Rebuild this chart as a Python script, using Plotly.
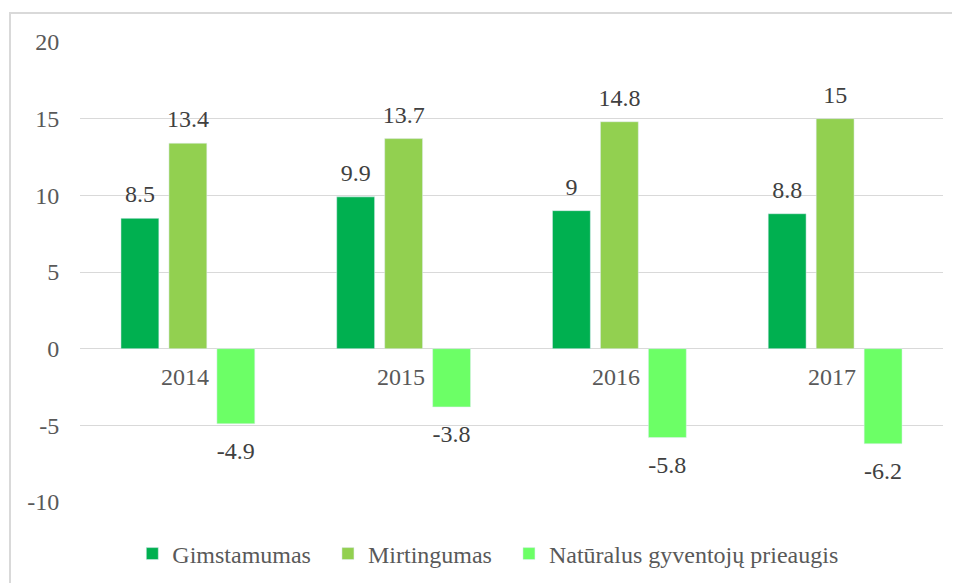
import plotly.graph_objects as go

years = [2014, 2015, 2016, 2017]
gimstamumas = [8.5, 9.9, 9, 8.8]
mirtingumas = [13.4, 13.7, 14.8, 15]
prieaugis = [-4.9, -3.8, -5.8, -6.2]
series_names = ["Gimstamumas", "Mirtingumas", "Natūralus gyventojų prieaugis"]
colors = ["#00B050", "#92D050", "#6CFF66"]
y_ticks = [-10, -5, 0, 5, 10, 15, 20]
y_ticktext = ["-10", "-5", "0", "5", "10", "15", "20"]

FONT = "Liberation Serif"
GAP = 0.333
fig = go.Figure()
series = [gimstamumas, mirtingumas, prieaugis]
for name, vals, c in zip(series_names, series, colors):
    fig.add_trace(go.Bar(
        x=years, y=vals, name=name + "\u00a0\u00a0", marker=dict(color=c),
        hoverinfo="skip",
    ))
# value labels, grouped like the bars
for name, vals in zip(series_names, series):
    fig.add_trace(go.Scatter(
        x=years, y=vals, mode="markers+text", showlegend=False, hoverinfo="skip",
        text=[str(v) for v in vals],
        textposition=["top center" if v >= 0 else "bottom center" for v in vals],
        marker=dict(size=[14.4 if v >= 0 else 25.6 for v in vals], opacity=0),
        textfont=dict(family=FONT, size=24, color="#404040"),
        cliponaxis=False,
    ))

for yr in years:
    fig.add_annotation(x=yr, y=0, xref="x", yref="y", text=str(yr), showarrow=False,
                       yanchor="top", yshift=-13, xshift=-3,
                       font=dict(family=FONT, size=24, color="#595959"))

fig.add_shape(type="rect", xref="paper", yref="paper",
              x0=-0.0811, x1=1.05, y0=-0.25, y1=1.063,
              line=dict(color="#D9D9D9", width=2), layer="below")

fig.update_layout(
    width=960, height=583,
    margin=dict(l=72, r=25, t=34, b=89),
    paper_bgcolor="white", plot_bgcolor="white",
    barmode="group", bargap=GAP, bargroupgap=0.21,
    scattermode="group", scattergap=GAP,
    font=dict(family=FONT, size=24, color="#595959"),
    legend=dict(orientation="h", x=0.4795, xanchor="center", y=-0.113, yanchor="middle",
                font=dict(family=FONT, size=24, color="#595959"), itemwidth=30),
    xaxis=dict(range=[2013.5, 2017.5], showticklabels=False, showgrid=False, zeroline=False),
    yaxis=dict(range=[-10, 20], tickvals=y_ticks, ticktext=y_ticktext,
               gridcolor="#D9D9D9", gridwidth=1.3, zerolinecolor="#D9D9D9", zerolinewidth=1.3,
               ticks="outside", ticklen=15, tickcolor="rgba(0,0,0,0)",
               tickfont=dict(family=FONT, size=24, color="#595959")),
)

fig.write_html("out.html")
